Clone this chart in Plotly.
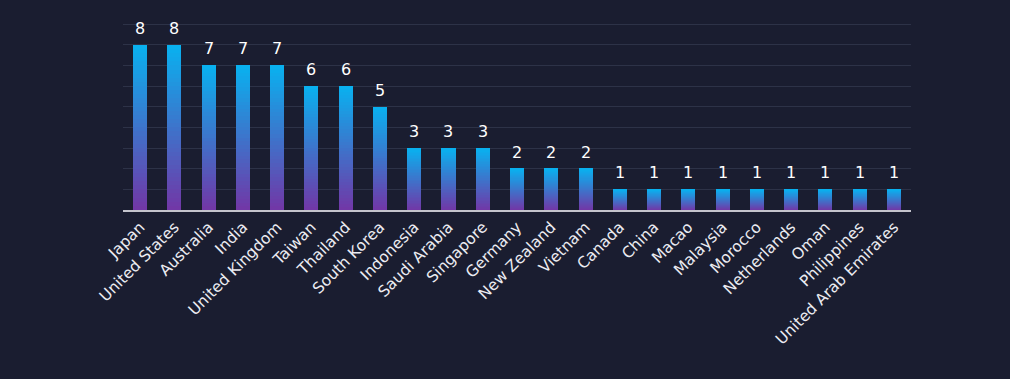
import plotly.graph_objects as go

countries = ["Japan", "United States", "Australia", "India", "United Kingdom", "Taiwan",
             "Thailand", "South Korea", "Indonesia", "Saudi Arabia", "Singapore", "Germany",
             "New Zealand", "Vietnam", "Canada", "China", "Macao", "Malaysia", "Morocco",
             "Netherlands", "Oman", "Philippines", "United Arab Emirates"]
counts = [8, 8, 7, 7, 7, 6, 6, 5, 3, 3, 3, 2, 2, 2, 1, 1, 1, 1, 1, 1, 1, 1, 1]

TOP = (8, 178, 240)
BOTTOM = (114, 54, 166)
N = 40
FONT = "DejaVu Sans"

fig = go.Figure()
for k in range(N):
    t = (k + 0.5) / N
    c = tuple(round(BOTTOM[i] + (TOP[i] - BOTTOM[i]) * t) for i in range(3))
    fig.add_trace(go.Bar(
        x=countries, y=[v / N for v in counts],
        marker=dict(color="rgb(%d,%d,%d)" % c, line=dict(width=0)),
        width=0.41, hoverinfo="skip", showlegend=False,
    ))

for name, v in zip(countries, counts):
    fig.add_annotation(
        x=name, y=v, text=str(v), showarrow=False, yanchor="bottom", yshift=5,
        font=dict(color="#ffffff", size=16, family=FONT),
    )

fig.update_layout(
    width=1010, height=379,
    barmode="stack", bargap=0.59,
    paper_bgcolor="#1a1d30", plot_bgcolor="#1a1d30",
    margin=dict(l=123, r=99, t=22, b=169),
    font=dict(family=FONT, color="#e8e8ee"),
    xaxis=dict(
        tickangle=-45, tickfont=dict(size=15.5, color="#ececf2", family=FONT),
        showline=True, linecolor="#c4c4cc", linewidth=2,
        showgrid=False, ticks="", fixedrange=True,
    ),
    yaxis=dict(
        range=[0, 9.1], dtick=1, showticklabels=False,
        gridcolor="#2d3247", gridwidth=1, zeroline=False, fixedrange=True,
    ),
)

fig.write_html("out.html", config={"displayModeBar": False},
               post_script="document.body.style.margin='0';document.body.style.overflow='hidden';")
